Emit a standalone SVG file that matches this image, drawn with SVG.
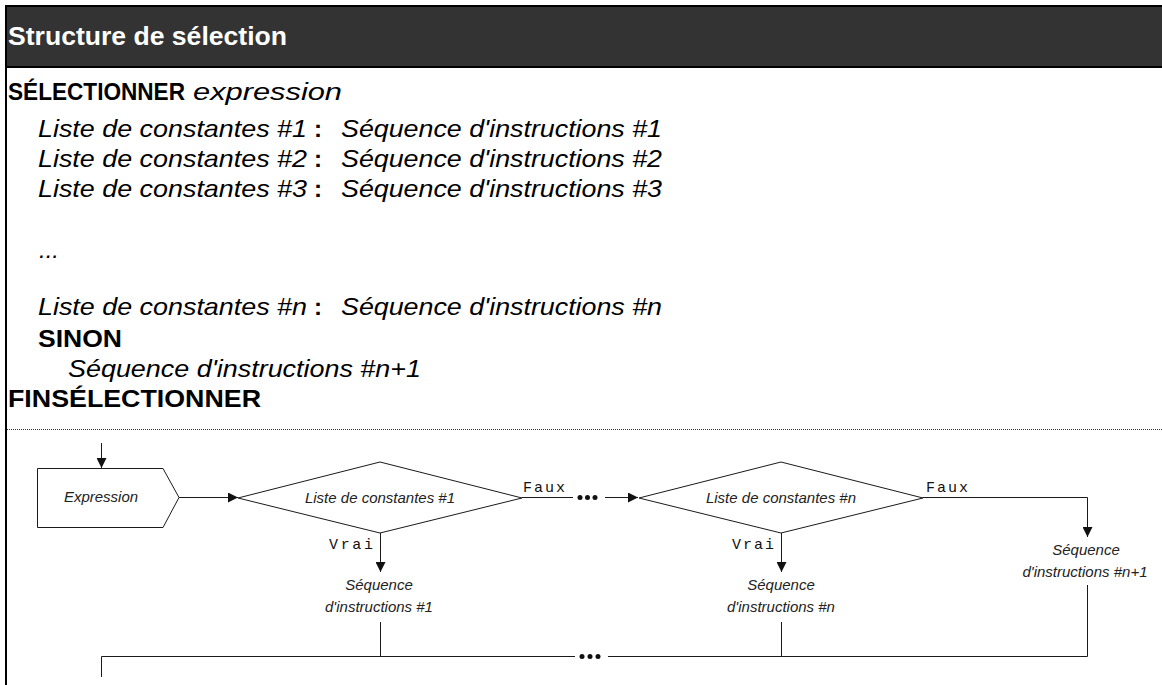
<svg xmlns="http://www.w3.org/2000/svg" width="1162" height="685" viewBox="0 0 1162 685">
<defs>
<marker id="ah" viewBox="0 0 10 10" refX="10" refY="5" markerWidth="10" markerHeight="10" markerUnits="userSpaceOnUse" orient="auto">
<path d="M0,0 L10,5 L0,10 Z" fill="#111"/>
</marker>
<style>
.hd{font-family:"Liberation Sans",Arial,sans-serif;font-weight:bold;fill:#fff}
.kw{font-family:"Liberation Sans",Arial,sans-serif;font-weight:bold;fill:#000}
.it{font-family:"Liberation Sans",Arial,sans-serif;font-style:italic;fill:#000}
.dt{font-family:"Liberation Sans",Arial,sans-serif;font-style:italic;font-size:15px;fill:#222;text-anchor:middle}
.mn{font-family:"Liberation Mono","Courier New",monospace;font-size:15px;fill:#111}
.ln{fill:none;stroke:#1a1a1a;stroke-width:1}
.shape{fill:#fff;stroke:#1a1a1a;stroke-width:1}
.dot{fill:#111}
</style>
</defs>
<rect x="0" y="0" width="1162" height="685" fill="#fff"/>
<!-- header -->
<rect x="6" y="6" width="1160" height="61" fill="#333333" stroke="#000" stroke-width="2"/>
<line x1="6" y1="5" x2="6" y2="685" stroke="#000" stroke-width="2"/>
<text class="hd" x="8" y="45" font-size="25" textLength="279" lengthAdjust="spacingAndGlyphs">Structure de sélection</text>
<!-- pseudo-code -->
<text x="8" y="100" font-size="24"><tspan class="kw" textLength="177" lengthAdjust="spacingAndGlyphs">SÉLECTIONNER</tspan><tspan class="it" x="193" textLength="149" lengthAdjust="spacingAndGlyphs">expression</tspan></text>
<g font-size="24">
<text class="it" x="38" y="137" textLength="269" lengthAdjust="spacingAndGlyphs">Liste de constantes #1</text>
<text class="kw" x="314" y="137">:</text>
<text class="it" x="341" y="137" textLength="321" lengthAdjust="spacingAndGlyphs">Séquence d'instructions #1</text>
<text class="it" x="38" y="167" textLength="269" lengthAdjust="spacingAndGlyphs">Liste de constantes #2</text>
<text class="kw" x="314" y="167">:</text>
<text class="it" x="341" y="167" textLength="321" lengthAdjust="spacingAndGlyphs">Séquence d'instructions #2</text>
<text class="it" x="38" y="197" textLength="269" lengthAdjust="spacingAndGlyphs">Liste de constantes #3</text>
<text class="kw" x="314" y="197">:</text>
<text class="it" x="341" y="197" textLength="321" lengthAdjust="spacingAndGlyphs">Séquence d'instructions #3</text>
<text class="it" x="39" y="258">...</text>
<text class="it" x="38" y="315" textLength="269" lengthAdjust="spacingAndGlyphs">Liste de constantes #n</text>
<text class="kw" x="314" y="315">:</text>
<text class="it" x="341" y="315" textLength="321" lengthAdjust="spacingAndGlyphs">Séquence d'instructions #n</text>
<text class="kw" x="38" y="347" textLength="84" lengthAdjust="spacingAndGlyphs">SINON</text>
<text class="it" x="68" y="377" textLength="353" lengthAdjust="spacingAndGlyphs">Séquence d'instructions #n+1</text>
<text class="kw" x="8" y="407" textLength="253" lengthAdjust="spacingAndGlyphs">FINSÉLECTIONNER</text>
</g>
<line x1="7" y1="429.5" x2="1162" y2="429.5" stroke="#333" stroke-width="1" stroke-dasharray="1,1"/>
<!-- flowchart nodes -->
<g id="expression">
<polygon class="shape" points="37.5,468.5 163,468.5 179,497.5 163,527.5 37.5,527.5"/>
<text class="dt" x="101" y="502">Expression</text>
</g>
<g id="decision1">
<polygon class="shape" points="238,498 380,462 522,498 380,533"/>
<text class="dt" x="380" y="503">Liste de constantes #1</text>
</g>
<g id="decisionN">
<polygon class="shape" points="639,498 781,462 923,498 781,533"/>
<text class="dt" x="781" y="503">Liste de constantes #n</text>
</g>
<g id="seq1">
<text class="dt" x="379" y="590">Séquence</text>
<text class="dt" x="379" y="612">d'instructions #1</text>
</g>
<g id="seqN">
<text class="dt" x="781" y="590">Séquence</text>
<text class="dt" x="781" y="612">d'instructions #n</text>
</g>
<g id="seqN1">
<text class="dt" x="1086" y="555">Séquence</text>
<text class="dt" x="1085" y="577">d'instructions #n+1</text>
</g>
<!-- connectors -->
<g id="connectors">
<line class="ln" x1="101.5" y1="443" x2="101.5" y2="468" marker-end="url(#ah)"/>
<line class="ln" x1="179" y1="497.5" x2="238" y2="497.5" marker-end="url(#ah)"/>
<line class="ln" x1="522" y1="497.5" x2="573" y2="497.5"/>
<circle class="dot" cx="580" cy="497.5" r="2.5"/>
<circle class="dot" cx="587.5" cy="497.5" r="2.5"/>
<circle class="dot" cx="595" cy="497.5" r="2.5"/>
<line class="ln" x1="605" y1="497.5" x2="638" y2="497.5" marker-end="url(#ah)"/>
<line class="ln" x1="380.5" y1="533" x2="380.5" y2="572" marker-end="url(#ah)"/>
<line class="ln" x1="781.5" y1="533" x2="781.5" y2="572" marker-end="url(#ah)"/>
<polyline class="ln" points="923,497.5 1087.5,497.5 1087.5,537" marker-end="url(#ah)"/>
<line class="ln" x1="380.5" y1="622" x2="380.5" y2="656"/>
<line class="ln" x1="781.5" y1="622" x2="781.5" y2="656"/>
<polyline class="ln" points="1087.5,585 1087.5,656.5 608,656.5"/>
<polyline class="ln" points="575,656.5 101.5,656.5 101.5,677"/>
<circle class="dot" cx="582" cy="656.5" r="2.5"/>
<circle class="dot" cx="590" cy="656.5" r="2.5"/>
<circle class="dot" cx="598" cy="656.5" r="2.5"/>
<text class="mn" x="523" y="492" textLength="42">Faux</text>
<text class="mn" x="926" y="492" textLength="42">Faux</text>
<text class="mn" x="329" y="549" textLength="44">Vrai</text>
<text class="mn" x="732" y="549" textLength="42">Vrai</text>
</g>
</svg>
